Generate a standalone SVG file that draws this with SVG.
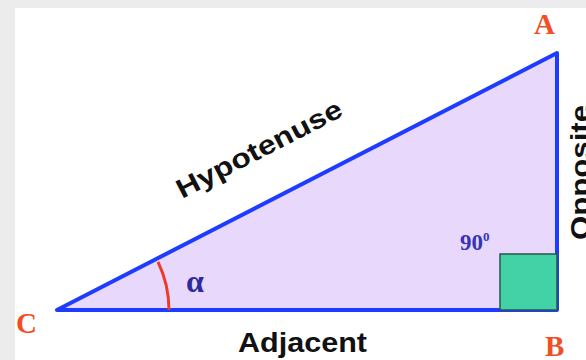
<svg xmlns="http://www.w3.org/2000/svg" width="586" height="360" viewBox="0 0 586 360">
  <style>
    .side { font-family: "Liberation Sans", Arial, sans-serif; font-weight: bold; font-size: 27px; fill: #111; }
    .vertex { font-family: "Liberation Serif", "Times New Roman", serif; font-weight: bold; font-size: 29px; fill: #F24E24; }
    .math { font-family: "Liberation Serif", "Times New Roman", serif; font-weight: bold; }
  </style>
  <rect x="0" y="0" width="586" height="360" fill="#ECECEC"/>
  <rect x="15" y="8" width="571" height="352" fill="#FFFFFF"/>
  <g id="triangle">
    <polygon points="57,310 557,310 557,53" fill="#E8D8FC" stroke="#1E3CFF" stroke-width="4" stroke-linejoin="round"/>
  </g>
  <g id="right-angle">
    <rect x="500" y="254" width="57" height="56" fill="#43D2A5" stroke="#24574B" stroke-width="1.5"/>
    <text class="math" x="460" y="250" font-size="23" fill="#3535B5">90<tspan font-size="13" dy="-9">0</tspan></text>
  </g>
  <g id="angle-alpha">
    <path d="M169,310 A112,112 0 0 0 158,261.8" fill="none" stroke="#EE3A2A" stroke-width="3"/>
    <text class="math" x="186" y="292" font-size="32" fill="#2B2B9E">α</text>
  </g>
  <g id="vertex-labels">
    <text class="vertex" x="534" y="34">A</text>
    <text class="vertex" x="545" y="356">B</text>
    <text class="vertex" x="16" y="333">C</text>
  </g>
  <g id="side-labels">
    <text class="side" transform="translate(182,199) rotate(-27.25)" textLength="183" lengthAdjust="spacingAndGlyphs">Hypotenuse</text>
    <text class="side" x="238" y="352" textLength="129" lengthAdjust="spacingAndGlyphs">Adjacent</text>
    <text class="side" transform="translate(590,240) rotate(-90)" textLength="135" lengthAdjust="spacingAndGlyphs">Opposite</text>
  </g>
</svg>
